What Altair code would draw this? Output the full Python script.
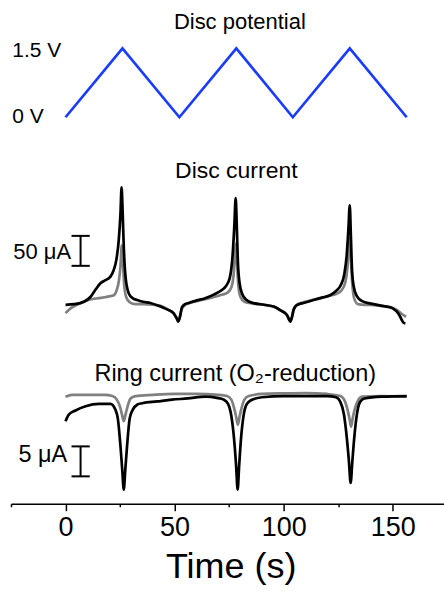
import altair as alt
import pandas as pd

# ---------------- data ----------------
x_ticks = [-25, 0, 25, 50, 75, 100, 125, 150]

# Disc potential (V)
pot_t = [0, 26.1, 52.2, 78.3, 104.2, 130.3, 156.4]
pot_v = [0, 1.5, 0, 1.5, 0, 1.5, 0]

# Disc current (uA) - black trace
disc_black_t = [0, 4, 8.4, 11.4, 13.7, 16, 18.3, 20.6, 22.1, 23.3, 24.4, 25.2, 25.7,
                26.2, 26.7, 27.5, 29, 30.8, 32.8, 35.5, 38.9, 43.5, 47.3, 49.5, 51.1, 51.7,
                52.4, 53.4, 54.8, 56.5, 60, 64, 68, 71, 73.5, 75.3, 76.6, 77.4, 78.0,
                78.5, 79.0, 79.8, 81, 83, 86, 91, 95.5, 98.4, 101.5, 103.1, 103.9, 104.5,
                105.3, 107, 109.1, 113.7, 117.5, 121.3, 124, 126.2, 127.8, 128.9, 129.7,
                130.3, 130.8, 131.3, 132.1, 133.5, 136, 140, 144, 147.3, 150, 151.8, 153,
                154.1, 155.0, 155.8]
disc_black_i = [-3, -2, 2, 10, 22, 33, 38, 44, 55, 72, 105, 150, 193,
                150, 94, 44, 16, 8, 5, 2, 0, -6, -12, -17, -27, -31,
                -24, -7, -2, 0, 4, 8, 14, 20, 28, 42, 80, 130, 175,
                130, 70, 33, 15, 5, 0, -3, -6, -12, -20, -31, -22, -12,
                -6, -2, 0, 5, 9, 13, 20, 30, 48, 80, 125,
                163, 113, 58, 28, 12, 3, -1, -4, -6, -9, -14, -20,
                -28, -33, -34]

# Disc current (uA) - grey trace
disc_grey_t = [0, 2.3, 5.3, 9, 13, 17, 20, 22.1, 23.5, 24.5, 25.2, 25.8, 26.3,
               26.9, 27.8, 29.5, 32, 36, 40, 44, 47, 49.5, 51, 51.8, 52.5, 53.2, 54.5,
               57, 61, 65, 69, 72, 74.5, 76, 77, 77.6, 78.1, 78.6, 79.2, 80.2, 82, 86,
               91, 96, 99, 101.5, 103, 103.8, 104.5, 106, 109, 113, 117, 121, 124,
               126.5, 128.3, 129.3, 130.2, 130.8, 131.4, 132.3, 134, 137, 140, 145,
               149, 152, 154, 156.1]
disc_grey_i = [-17, -9, -3, 3, 7, 9, 11, 13, 22, 38, 62, 96, 70,
               30, 10, 1, -2, -2, -3, -5, -11, -17, -25, -29, -22, -11, -4,
               0, 4, 7, 11, 14, 18, 26, 45, 75, 99, 70, 30, 10, 2, -1,
               -3, -7, -13, -20, -29, -24, -12, -3, 1, 5, 8, 12, 15,
               21, 35, 62, 108, 75, 35, 8, -2, -3, -3, -5,
               -7, -12, -18, -23]

# Ring current (uA) - black trace
ring_black_t = [0, 1.5, 4.6, 9.2, 15.3, 20.6, 22.9, 24, 25.2, 26, 26.7, 27.4, 28.2,
                29.4, 30.8, 33, 35.1, 42, 48.8, 56, 64.1, 69.4, 72.5, 74.5, 76, 77.3,
                78.2, 78.9, 79.6, 80.4, 81.6, 83, 85, 90, 100, 110, 120, 124, 126,
                127.6, 128.9, 129.9, 130.7, 131.5, 132.4, 133.6, 135, 137, 145, 156.4]
ring_black_i = [-4.4, -3.3, -2.6, -1.9, -1.5, -1.5, -2.5, -4, -8.6, -12.5, -15.8, -12.5, -8.6,
                -4, -2.5, -1.6, -1.4, -1.1, -0.8, -0.6, -0.3, -0.5, -0.8, -1.5, -3.5, -7.5,
                -11.8, -15.8, -11.8, -7.5, -3.5, -1.6, -0.9, -0.4, -0.2, -0.2, -0.2, -0.4, -1.2,
                -3.2, -7, -11, -14.7, -11, -7, -3.2, -1.2, -0.6, -0.3, -0.2]

# Ring current (uA) - grey trace
ring_grey_t = [0, 3, 10, 18, 21.5, 23.5, 25, 25.9, 26.7, 27.5, 28.4, 29.8, 32, 40,
               50, 60, 70, 74, 76, 77.5, 78.3, 79, 79.7, 80.5, 82, 84, 90, 100, 110,
               120, 126, 128, 129.5, 130.3, 130.9, 131.5, 132.3, 134, 136, 145, 156.4]
ring_grey_i = [-0.3, 0, 0, 0, -0.2, -0.8, -2.0, -3.3, -4.4, -3.3, -2.0, -0.6, -0.2, 0,
               0.15, 0.15, 0, -0.2, -0.8, -2.5, -3.8, -5, -3.8, -2.5, -0.8, -0.2, 0.15, 0.25, 0.3,
               0.15, -0.2, -1, -2.8, -4.2, -5.3, -4.2, -2.8, -1, -0.3, -0.2, -0.3]

# ---------------- styling ----------------
FONT = "Liberation Sans"
BLUE = "#1a3cff"
GREY = "#808080"
BLACK = "#000000"
LW = 2.7
W = 433.6
XDOM = [-25, 173.5]

POT_DOM = [-0.5, 2.5435]
DISC_DOM = [-70, 271.667]
RING_DOM = [-18.1667, 8.3333]

bottom_axis = alt.Axis(
    values=x_ticks,
    labelExpr="datum.value % 50 === 0 ? datum.label : ''",
    grid=False,
    domainColor=BLACK,
    domainWidth=1.5,
    tickColor=BLACK,
    tickWidth=1.5,
    tickSize={"condition": {"test": "datum.value % 50 === 0", "value": 7}, "value": 3},
    labelFont=FONT,
    labelFontSize=27,
    labelColor=BLACK,
    labelPadding=4,
    labelOverlap=False,
    labelFlush=False,
    title="Time (s)",
    titleFont=FONT,
    titleFontSize=36,
    titleFontWeight="normal",
    titleColor=BLACK,
    titlePadding=9,
    titleX=220,
)


def xenc(axis=None):
    return alt.X("t:Q", scale=alt.Scale(domain=XDOM, nice=False, zero=False), axis=axis)


def yenc(dom):
    return alt.Y("v:Q", scale=alt.Scale(domain=dom, nice=False, zero=False), axis=None)


def line(t, v, color, dom, axis=None, interp="monotone"):
    df = pd.DataFrame({"t": t, "v": v})
    return alt.Chart(df).mark_line(color=color, strokeWidth=LW, interpolate=interp).encode(
        x=xenc(axis), y=yenc(dom)
    )


def text(t, v, label, dom, size, align="center", axis=None):
    df = pd.DataFrame({"t": [t], "v": [v], "label": [label]})
    return alt.Chart(df).mark_text(
        font=FONT, fontSize=size, align=align, baseline="middle", color=BLACK
    ).encode(x=xenc(axis), y=yenc(dom), text="label:N")


def scalebar(tc, ta, tb, v1, v2, dom, axis=None):
    vdf = pd.DataFrame({"t": [tc], "v": [v1], "v2": [v2]})
    cdf = pd.DataFrame({"t": [ta, ta], "t2": [tb, tb], "v": [v1, v2]})
    vert = alt.Chart(vdf).mark_rule(color=BLACK, strokeWidth=2).encode(
        x=xenc(axis), y=yenc(dom), y2="v2:Q")
    caps = alt.Chart(cdf).mark_rule(color=BLACK, strokeWidth=2).encode(
        x=xenc(axis), x2="t2:Q", y=yenc(dom))
    return vert + caps


# ---- panel 1: disc potential ----
p1 = alt.layer(
    line(pot_t, pot_v, BLUE, POT_DOM, interp="linear"),
    text(79.9, 2.07, "Disc potential", POT_DOM, 22),
    text(-24.4, 1.44, "1.5 V", POT_DOM, 21, "left"),
    text(-24.4, 0.0, "0 V", POT_DOM, 21, "left"),
).properties(width=W, height=140)

# ---- panel 2: disc current ----
p2 = alt.layer(
    line(disc_grey_t, disc_grey_i, GREY, DISC_DOM),
    line(disc_black_t, disc_black_i, BLACK, DISC_DOM),
    text(78.3, 220, "Disc current", DISC_DOM, 23),
    scalebar(6.9, 2.75, 11.1, 62, 112, DISC_DOM),
    text(2.6, 85, "50 μA", DISC_DOM, 22, "right"),
).properties(width=W, height=205)

# ---- panel 3: ring current ----
A = bottom_axis
p3 = alt.layer(
    line(ring_grey_t, ring_grey_i, GREY, RING_DOM, A),
    line(ring_black_t, ring_black_i, BLACK, RING_DOM, A),
    text(77.8, 3.5, "Ring current (O₂-reduction)", RING_DOM, 23.5, axis=A),
    scalebar(6.9, 2.75, 11.1, -8.6, -13.6, RING_DOM, A),
    text(0.8, -10.0, "5 μA", RING_DOM, 23.5, "right", A),
).properties(width=W, height=159)

chart = alt.vconcat(p1, p2, p3, spacing=0).properties(
    padding={"left": 10, "top": 0, "right": 0, "bottom": 0}
).configure_view(stroke=None)

chart.save("out.html", embed_options={"renderer": "svg", "actions": False})
